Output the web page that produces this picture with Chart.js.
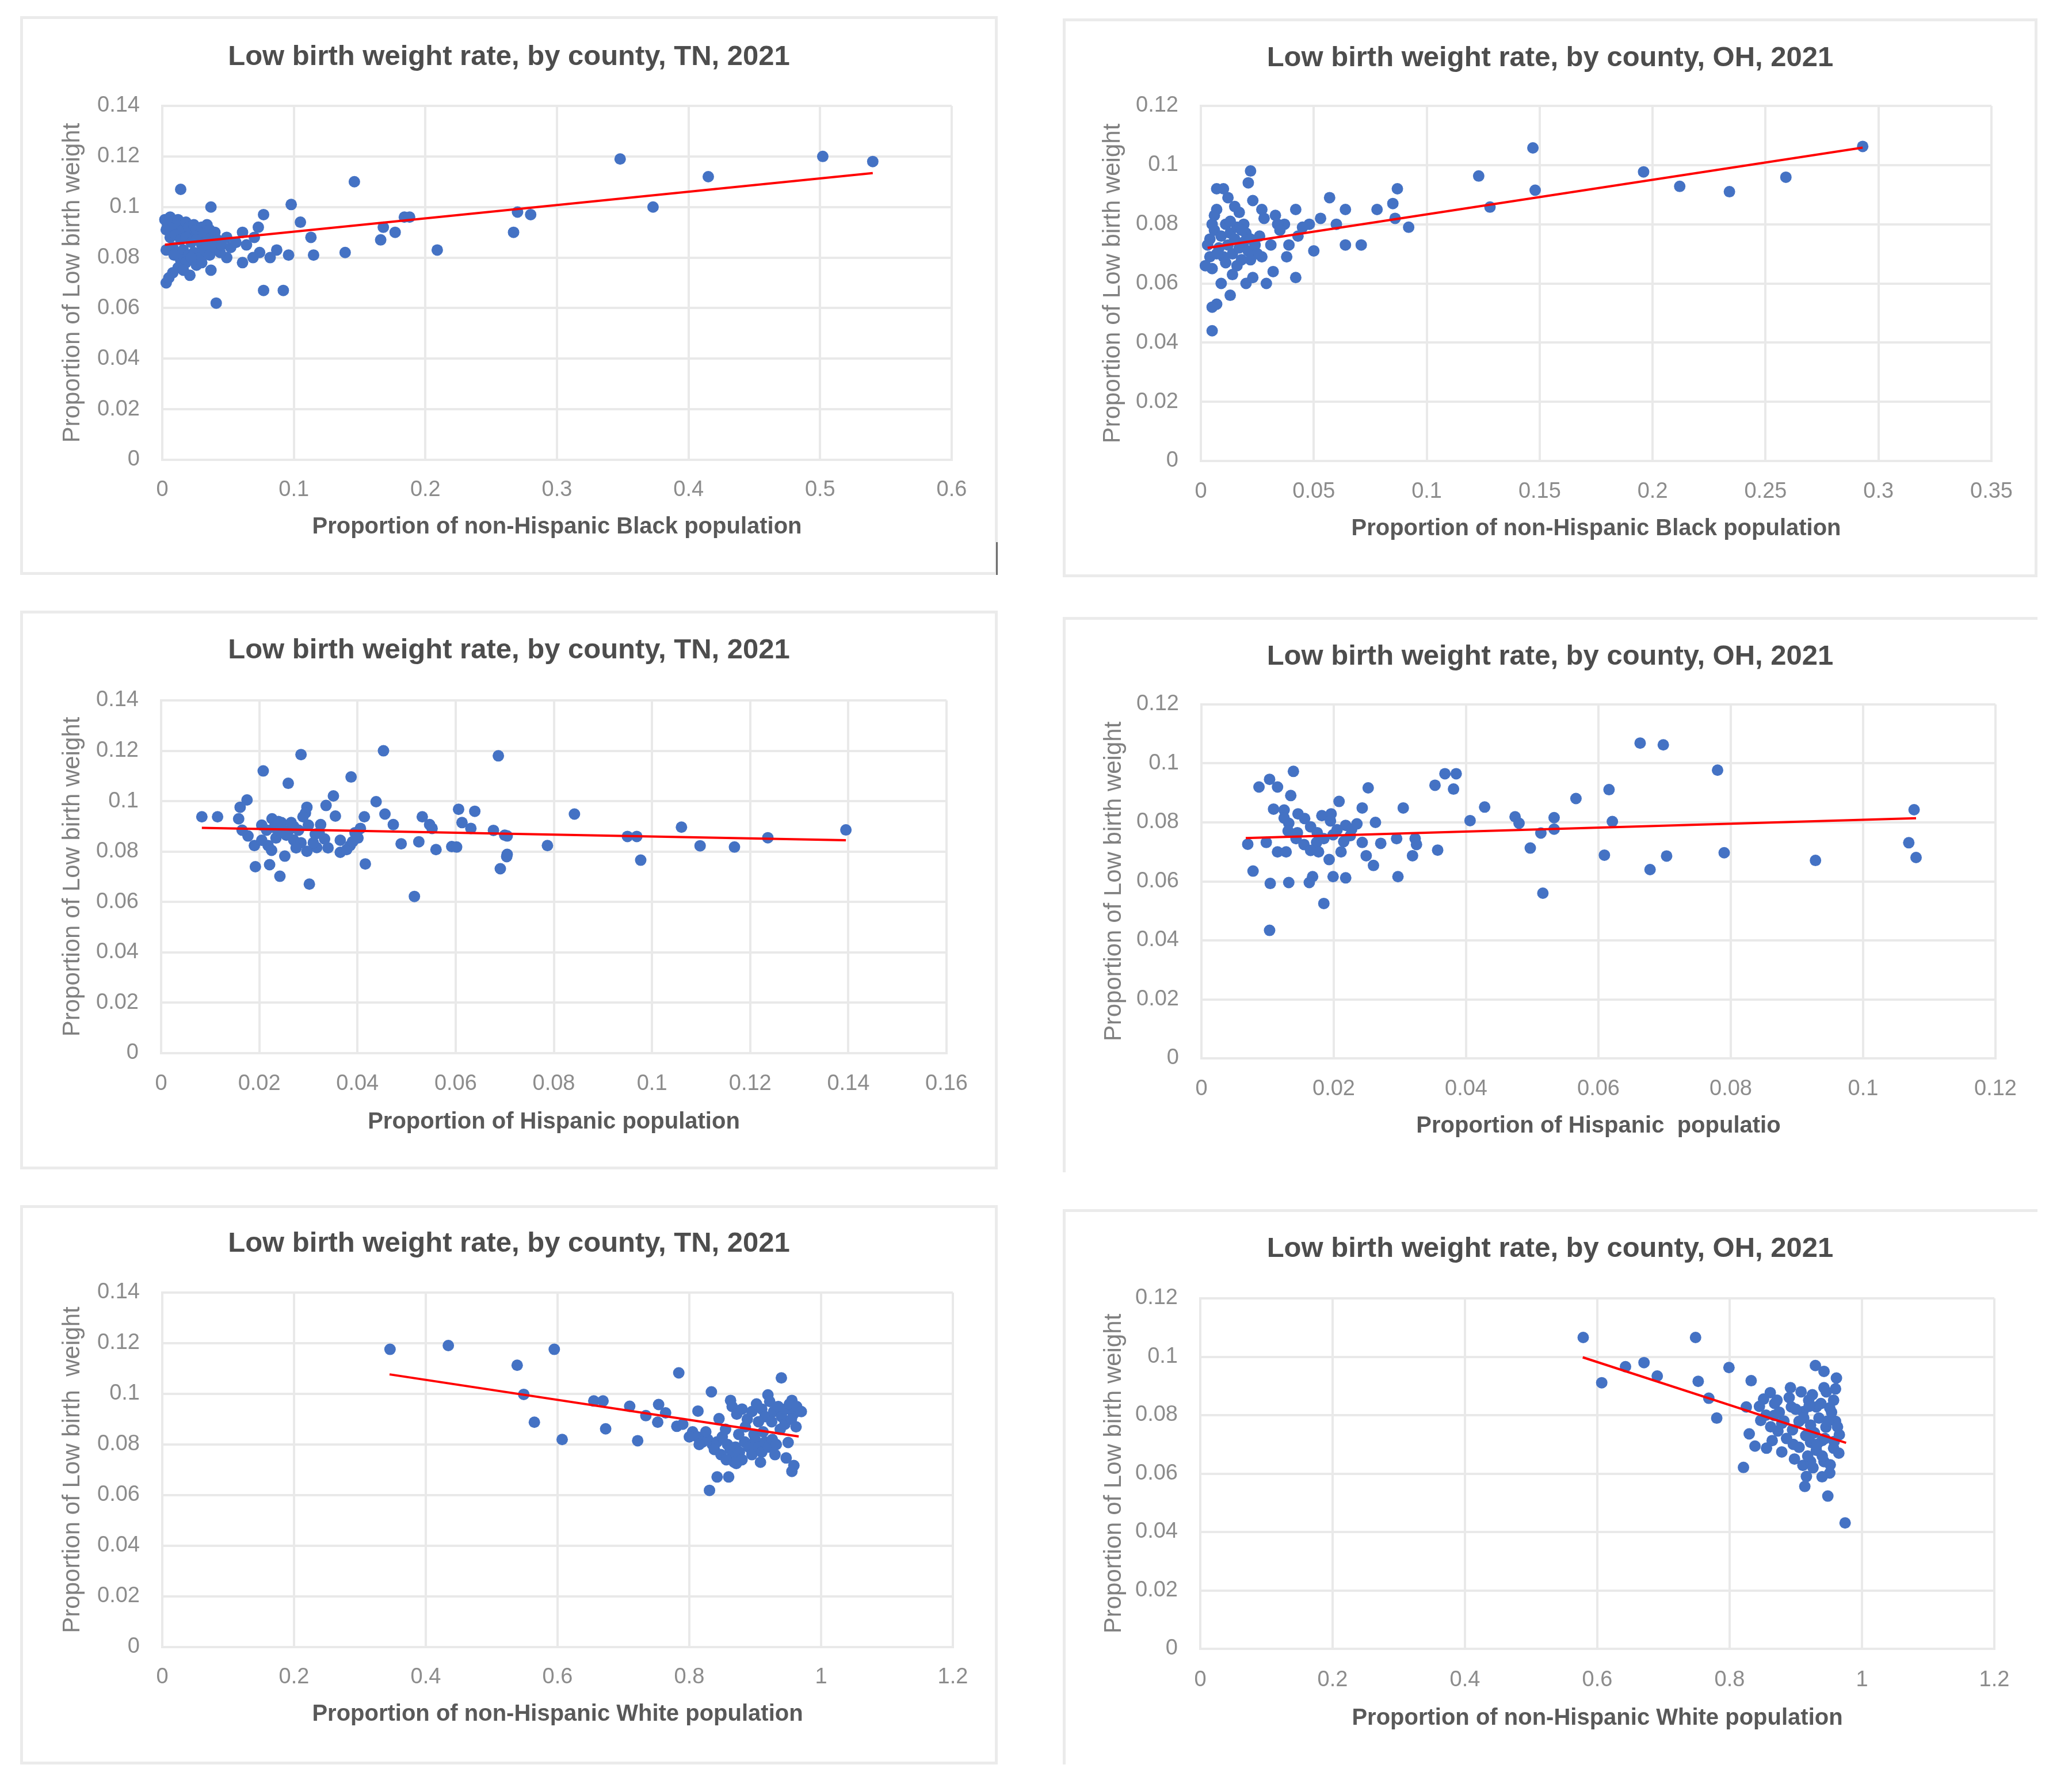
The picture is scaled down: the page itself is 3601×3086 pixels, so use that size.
<!DOCTYPE html>
<html>
<head>
<meta charset="utf-8">
<title>Low birth weight rate, by county, TN and OH, 2021</title>
<script src="https://cdn.jsdelivr.net/npm/chart.js@4.4.1/dist/chart.umd.min.js"></script>
<style>
  html, body { margin: 0; padding: 0; background: #fff; }
  body { width: 3601px; height: 3086px; position: relative; overflow: hidden; }
  .panel { position: absolute; }
  .frame { position: absolute; box-sizing: border-box; border: 5px solid #ebebeb; pointer-events: none; }
  .frame.open { border-right: none; border-bottom: none; }
  .mark { position: absolute; background: #6b6b6b; }
</style>
</head>
<body>
<div class="panel" style="left:35px;top:28px;"><canvas id="tnBlack" width="1699" height="971"></canvas></div>
<div class="panel" style="left:1847px;top:32px;"><canvas id="ohBlack" width="1694" height="971"></canvas></div>
<div class="panel" style="left:35px;top:1061px;"><canvas id="tnHisp" width="1699" height="971"></canvas></div>
<div class="panel" style="left:1847px;top:1072px;"><canvas id="ohHisp" width="1694" height="965"></canvas></div>
<div class="panel" style="left:35px;top:2094px;"><canvas id="tnWhite" width="1699" height="972"></canvas></div>
<div class="panel" style="left:1847px;top:2101px;"><canvas id="ohWhite" width="1694" height="965"></canvas></div>

<div class="frame" style="left:35px;top:28px;width:1699px;height:971px;"></div>
<div class="frame" style="left:1847px;top:32px;width:1694px;height:971px;"></div>
<div class="frame" style="left:35px;top:1061px;width:1699px;height:971px;"></div>
<div class="frame open" style="left:1847px;top:1072px;width:1694px;height:965px;"></div>
<div class="frame" style="left:35px;top:2094px;width:1699px;height:972px;"></div>
<div class="frame open" style="left:1847px;top:2101px;width:1694px;height:965px;"></div>
<div class="mark" style="left:1731px;top:942px;width:3px;height:57px;"></div>

<script>
'use strict';

// ---- titles
const chartTitleTN = 'Low birth weight rate, by county, TN, 2021';
const chartTitleOH = 'Low birth weight rate, by county, OH, 2021';

// ---- tick labels
const yTicksTN = [0, 0.02, 0.04, 0.06, 0.08, 0.1, 0.12, 0.14];
const yLabelsTN = ['0', '0.02', '0.04', '0.06', '0.08', '0.1', '0.12', '0.14'];
const yTicksOH = [0, 0.02, 0.04, 0.06, 0.08, 0.1, 0.12];
const yLabelsOH = ['0', '0.02', '0.04', '0.06', '0.08', '0.1', '0.12'];
const xTicksBlackTN = [0, 0.1, 0.2, 0.3, 0.4, 0.5, 0.6];
const xLabelsBlackTN = ['0', '0.1', '0.2', '0.3', '0.4', '0.5', '0.6'];
const xTicksBlackOH = [0, 0.05, 0.1, 0.15, 0.2, 0.25, 0.3, 0.35];
const xLabelsBlackOH = ['0', '0.05', '0.1', '0.15', '0.2', '0.25', '0.3', '0.35'];
const xTicksHispTN = [0, 0.02, 0.04, 0.06, 0.08, 0.1, 0.12, 0.14, 0.16];
const xLabelsHispTN = ['0', '0.02', '0.04', '0.06', '0.08', '0.1', '0.12', '0.14', '0.16'];
const xTicksHispOH = [0, 0.02, 0.04, 0.06, 0.08, 0.1, 0.12];
const xLabelsHispOH = ['0', '0.02', '0.04', '0.06', '0.08', '0.1', '0.12'];
const xTicksWhite = [0, 0.2, 0.4, 0.6, 0.8, 1, 1.2];
const xLabelsWhite = ['0', '0.2', '0.4', '0.6', '0.8', '1', '1.2'];

// ---- TN, non-Hispanic Black
const tnBlackX = [0.540, 0.502, 0.415, 0.348, 0.373, 0.267, 0.270, 0.280, 0.209, 0.184, 0.188, 0.177, 0.166, 0.168, 0.146, 0.139,
  0.014, 0.037, 0.098, 0.077, 0.105, 0.073, 0.061, 0.049, 0.113, 0.115, 0.096, 0.087, 0.082, 0.074, 0.069, 0.061, 0.049, 0.037, 0.021, 0.003, 0.041, 0.077, 0.092,
  0.002, 0.004, 0.006, 0.003, 0.008, 0.010, 0.012, 0.014, 0.016, 0.018, 0.020, 0.022, 0.024, 0.026, 0.028, 0.030, 0.032, 0.034, 0.036, 0.038, 0.040, 0.042,
  0.006, 0.010, 0.014, 0.018, 0.022, 0.026, 0.030, 0.034, 0.003, 0.008, 0.012, 0.016, 0.020, 0.024, 0.028, 0.032, 0.036, 0.040, 0.044,
  0.014, 0.018, 0.022, 0.026, 0.012, 0.008, 0.005, 0.016, 0.030, 0.045, 0.052, 0.056, 0.064, 0.070, 0.009];
const tnBlackY = [0.118, 0.120, 0.112, 0.119, 0.100, 0.090, 0.098, 0.097, 0.083, 0.096, 0.096, 0.090, 0.087, 0.092, 0.110, 0.082,
  0.107, 0.100, 0.101, 0.097, 0.094, 0.092, 0.090, 0.088, 0.088, 0.081, 0.081, 0.083, 0.080, 0.082, 0.080, 0.078, 0.080, 0.075, 0.073, 0.070, 0.062, 0.067, 0.067,
  0.095, 0.093, 0.096, 0.091, 0.094, 0.092, 0.095, 0.093, 0.091, 0.094, 0.092, 0.090, 0.093, 0.091, 0.089, 0.092, 0.090, 0.093, 0.091, 0.088, 0.090, 0.087,
  0.088, 0.089, 0.087, 0.088, 0.086, 0.087, 0.085, 0.086, 0.083, 0.084, 0.082, 0.083, 0.081, 0.082, 0.080, 0.083, 0.081, 0.084, 0.082,
  0.079, 0.078, 0.080, 0.077, 0.076, 0.074, 0.072, 0.075, 0.078, 0.085, 0.084, 0.086, 0.085, 0.088, 0.081];
const tnBlackTrendX = [0.002, 0.540];
const tnBlackTrendY = [0.0851, 0.1134];

// ---- OH, non-Hispanic Black
const ohBlackX = [0.293, 0.259, 0.234, 0.212, 0.196, 0.148, 0.147, 0.123, 0.128,
  0.087, 0.085, 0.086, 0.092, 0.078, 0.064, 0.057, 0.053, 0.048, 0.042, 0.037, 0.034, 0.043, 0.039, 0.050, 0.064, 0.071, 0.038, 0.042, 0.032, 0.029, 0.027,
  0.031, 0.028, 0.023, 0.022, 0.021, 0.012, 0.007, 0.010, 0.017, 0.019, 0.007, 0.006, 0.020, 0.023, 0.014, 0.009, 0.013, 0.007, 0.005, 0.005, 0.005, 0.004,
  0.004, 0.006, 0.008, 0.009, 0.011, 0.012, 0.013, 0.014, 0.015, 0.016, 0.017, 0.018, 0.019, 0.020, 0.021, 0.022, 0.024, 0.025, 0.010, 0.007, 0.003, 0.013,
  0.016, 0.026, 0.011, 0.005, 0.018, 0.022, 0.035, 0.045, 0.060, 0.027, 0.033, 0.002, 0.015];
const ohBlackY = [0.1063, 0.0959, 0.0910, 0.0928, 0.0977, 0.0915, 0.1058, 0.0963, 0.0858,
  0.092, 0.087, 0.082, 0.079, 0.085, 0.085, 0.089, 0.082, 0.080, 0.085, 0.080, 0.080, 0.076, 0.073, 0.071, 0.073, 0.073, 0.069, 0.062, 0.064, 0.060, 0.069,
  0.073, 0.082, 0.088, 0.098, 0.094, 0.089, 0.092, 0.092, 0.084, 0.080, 0.085, 0.083, 0.060, 0.062, 0.063, 0.060, 0.056, 0.053, 0.052, 0.044, 0.065, 0.069,
  0.075, 0.078, 0.072, 0.076, 0.080, 0.073, 0.077, 0.070, 0.075, 0.079, 0.072, 0.068, 0.074, 0.077, 0.071, 0.075, 0.073, 0.070, 0.069, 0.070, 0.073, 0.081,
  0.066, 0.076, 0.067, 0.080, 0.078, 0.068, 0.078, 0.079, 0.080, 0.085, 0.083, 0.066, 0.086];
const ohBlackTrendX = [0.003, 0.293];
const ohBlackTrendY = [0.0720, 0.1059];

// ---- TN, Hispanic
const tnHispX = [0.0285, 0.0453, 0.0687, 0.0208, 0.0259, 0.0387, 0.0175, 0.0161, 0.0083, 0.0115, 0.0158, 0.0351, 0.0336, 0.0297, 0.0294, 0.0355,
  0.0226, 0.0239, 0.0325, 0.0270, 0.0289, 0.0438, 0.0456, 0.0473, 0.0414, 0.0406, 0.0401, 0.0385, 0.0365, 0.0532, 0.0547, 0.0552, 0.0606, 0.0639,
  0.0613, 0.0631, 0.0677, 0.0705, 0.0787, 0.0842, 0.0705, 0.0691, 0.0489, 0.0525, 0.0560, 0.0592, 0.0516, 0.0416, 0.0302, 0.0242, 0.0221, 0.0192,
  0.0252, 0.0177, 0.0190, 0.0218, 0.0234, 0.0270, 0.0297, 0.0317, 0.0333, 0.0314, 0.0244, 0.0260, 0.0378, 0.0390,
  0.0950, 0.0969, 0.0977, 0.1060, 0.1098, 0.1168, 0.1236, 0.1395, 0.0602, 0.0704, 0.0700,
  0.0205, 0.0215, 0.0230, 0.0245, 0.0255, 0.0265, 0.0280, 0.0285, 0.0300, 0.0310, 0.0322, 0.0340, 0.0275, 0.0225, 0.0205, 0.0365, 0.0395, 0.0165];
const tnHispY = [0.1185, 0.1200, 0.1180, 0.1120, 0.1071, 0.1096, 0.1005, 0.0976, 0.0938, 0.0938, 0.0930, 0.1021, 0.0983, 0.0976, 0.0953, 0.0941,
  0.0930, 0.0919, 0.0907, 0.0900, 0.0938, 0.0998, 0.0949, 0.0907, 0.0938, 0.0892, 0.0854, 0.0824, 0.0797, 0.0938, 0.0907, 0.0892, 0.0968, 0.0960,
  0.0915, 0.0892, 0.0884, 0.0862, 0.0824, 0.0949, 0.0789, 0.0732, 0.0831, 0.0839, 0.0808, 0.0820, 0.0622, 0.0751, 0.0671, 0.0702, 0.0748, 0.0740,
  0.0782, 0.0862, 0.0824, 0.0824, 0.0854, 0.0846, 0.0801, 0.0816, 0.0850, 0.0869, 0.0877, 0.0884, 0.0808, 0.0839,
  0.0860, 0.0860, 0.0766, 0.0897, 0.0823, 0.0818, 0.0855, 0.0886, 0.0818, 0.0780, 0.0865,
  0.0905, 0.0885, 0.0895, 0.0915, 0.0865, 0.0915, 0.0885, 0.0835, 0.0905, 0.0835, 0.0875, 0.0815, 0.0815, 0.0805, 0.0845, 0.0845, 0.0875, 0.0885];
const tnHispTrendX = [0.0083, 0.1395];
const tnHispTrendY = [0.0894, 0.0845];

// ---- OH, Hispanic
const ohHispX = [0.0139, 0.0103, 0.0087, 0.0115, 0.0135, 0.0109, 0.0125, 0.0146, 0.0156, 0.0132, 0.0131, 0.0143, 0.0182, 0.0196, 0.0208, 0.0218,
  0.0227, 0.0199, 0.0174, 0.0177, 0.0193, 0.0211, 0.0243, 0.0249, 0.0260, 0.0271, 0.0263, 0.0243, 0.0252, 0.0305, 0.0353, 0.0368, 0.0385, 0.0381,
  0.0323, 0.0319, 0.0357, 0.0297, 0.0218, 0.0199, 0.0168, 0.0163, 0.0132, 0.0104, 0.0078, 0.0185, 0.0103, 0.0070, 0.0098, 0.0115, 0.0128,
  0.0406, 0.0428, 0.0474, 0.0480, 0.0497, 0.0513, 0.0533, 0.0533, 0.0516,
  0.0566, 0.0616, 0.0621, 0.0609, 0.0663, 0.0698, 0.0678, 0.0703, 0.0780, 0.0790, 0.0928, 0.1077, 0.1069, 0.1080,
  0.0145, 0.0165, 0.0185, 0.0205, 0.0225, 0.0155, 0.0175, 0.0195, 0.0215, 0.0235, 0.0125, 0.0165, 0.0325, 0.0295];
const ohHispY = [0.0973, 0.0946, 0.0920, 0.0920, 0.0891, 0.0845, 0.0842, 0.0829, 0.0813, 0.0797, 0.0771, 0.0745, 0.0823, 0.0829, 0.0871, 0.0790,
  0.0777, 0.0758, 0.0732, 0.0700, 0.0674, 0.0700, 0.0732, 0.0687, 0.0654, 0.0729, 0.0800, 0.0849, 0.0917, 0.0849, 0.0926, 0.0965, 0.0965, 0.0913,
  0.0745, 0.0687, 0.0706, 0.0616, 0.0612, 0.0616, 0.0616, 0.0596, 0.0596, 0.0593, 0.0635, 0.0525, 0.0434, 0.0726, 0.0732, 0.0700, 0.0700,
  0.0806, 0.0852, 0.0819, 0.0797, 0.0713, 0.0764, 0.0816, 0.0777, 0.0560,
  0.0881, 0.0911, 0.0803, 0.0689, 0.1069, 0.1063, 0.0640, 0.0686, 0.0977, 0.0697, 0.0671, 0.0843, 0.0731, 0.0681,
  0.0765, 0.0785, 0.0745, 0.0775, 0.0755, 0.0725, 0.0765, 0.0805, 0.0735, 0.0795, 0.0815, 0.0705, 0.0725, 0.0745];
const ohHispTrendX = [0.0067, 0.1080];
const ohHispTrendY = [0.0747, 0.0814];

// ---- TN, non-Hispanic White
const tnWhiteX = [0.3457, 0.4342, 0.5387, 0.5487, 0.5648, 0.5950, 0.6070, 0.6550, 0.6690, 0.6730, 0.7095, 0.7216, 0.7340, 0.7520, 0.7640,
  0.784, 0.9397, 0.8335, 0.9193, 0.8626, 0.9557, 0.8131, 0.7534, 0.781, 0.8451, 0.967, 0.950, 0.947, 0.9557, 0.9587, 0.8713, 0.8422, 0.8597, 0.8306,
  0.865, 0.872, 0.880, 0.888, 0.895, 0.902, 0.910, 0.915, 0.922, 0.928, 0.935, 0.940, 0.946, 0.952, 0.958, 0.963, 0.970, 0.925, 0.905, 0.945,
  0.805, 0.812, 0.820, 0.828, 0.835, 0.842, 0.850, 0.858, 0.862, 0.866, 0.870, 0.876, 0.880, 0.884, 0.890, 0.895, 0.900, 0.905, 0.910, 0.915,
  0.920, 0.926, 0.932, 0.875, 0.855, 0.898, 0.868,
  0.790, 0.800, 0.815, 0.825, 0.838, 0.848, 0.856, 0.885, 0.912, 0.938, 0.955, 0.962, 0.930, 0.908];
const tnWhiteY = [0.1176, 0.1191, 0.1113, 0.0998, 0.0888, 0.1176, 0.0820, 0.0972, 0.0972, 0.0862, 0.0951, 0.0815, 0.0914, 0.0888, 0.0925,
  0.1083, 0.1063, 0.1008, 0.0996, 0.0974, 0.0974, 0.0932, 0.0958, 0.0872, 0.0902, 0.0932, 0.0808, 0.0747, 0.0694, 0.0717, 0.0725, 0.0672, 0.0672, 0.0619,
  0.095, 0.092, 0.094, 0.090, 0.093, 0.096, 0.094, 0.091, 0.097, 0.093, 0.095, 0.091, 0.094, 0.096, 0.092, 0.095, 0.093, 0.089, 0.089, 0.088,
  0.085, 0.083, 0.081, 0.082, 0.080, 0.081, 0.083, 0.080, 0.078, 0.076, 0.079, 0.077, 0.074, 0.081, 0.079, 0.076, 0.082, 0.079, 0.077, 0.081,
  0.079, 0.082, 0.080, 0.084, 0.086, 0.084, 0.073,
  0.088, 0.083, 0.080, 0.085, 0.078, 0.076, 0.074, 0.087, 0.085, 0.086, 0.090, 0.087, 0.076, 0.073];
const tnWhiteTrendX = [0.345, 0.966];
const tnWhiteTrendY = [0.1077, 0.0832];

// ---- OH, non-Hispanic White
const ohWhiteX = [0.5787, 0.6067, 0.6426, 0.6706, 0.6906, 0.7485, 0.7525, 0.7685, 0.7805,
  0.799, 0.8325, 0.9296, 0.9426, 0.9614, 0.9426, 0.8919, 0.8614, 0.8513, 0.8716, 0.8252, 0.8296, 0.8209, 0.847, 0.8672, 0.8933, 0.9194, 0.9571,
  0.931, 0.9513, 0.9107, 0.960, 0.9223, 0.9455, 0.9658, 0.873, 0.8643, 0.8383, 0.8557, 0.8788, 0.8962, 0.9223, 0.9397, 0.9571, 0.931, 0.9107,
  0.9223, 0.9426, 0.9513, 0.9397, 0.9136, 0.9484, 0.9745, 0.8788, 0.9049,
  0.845, 0.855, 0.862, 0.868, 0.875, 0.882, 0.886, 0.890, 0.895, 0.900, 0.905, 0.908, 0.912, 0.915, 0.918, 0.920, 0.925, 0.928, 0.932, 0.935,
  0.938, 0.940, 0.944, 0.946, 0.948, 0.952, 0.954, 0.958, 0.960, 0.963, 0.965, 0.926, 0.916, 0.898];
const ohWhiteY = [0.1066, 0.0911, 0.0966, 0.0980, 0.0934, 0.1066, 0.0916, 0.0858, 0.0790,
  0.0963, 0.0918, 0.0970, 0.0950, 0.0927, 0.0894, 0.0894, 0.0877, 0.0855, 0.0851, 0.0828, 0.0736, 0.0621, 0.0782, 0.0799, 0.0828, 0.0851, 0.0851,
  0.0828, 0.0825, 0.0812, 0.0779, 0.0766, 0.0759, 0.0733, 0.0746, 0.0713, 0.0694, 0.0687, 0.0674, 0.0700, 0.0707, 0.0713, 0.0687, 0.0680, 0.0628,
  0.0641, 0.0641, 0.0602, 0.0589, 0.0556, 0.0523, 0.0431, 0.0772, 0.0779,
  0.083, 0.080, 0.076, 0.084, 0.081, 0.078, 0.072, 0.086, 0.075, 0.082, 0.069, 0.088, 0.079, 0.073, 0.066, 0.083, 0.087, 0.074, 0.070, 0.079,
  0.084, 0.066, 0.072, 0.088, 0.078, 0.063, 0.081, 0.071, 0.089, 0.076, 0.067, 0.062, 0.059, 0.065];
const ohWhiteTrendX = [0.578, 0.976];
const ohWhiteTrendY = [0.0998, 0.0705];

// ---- layout of each panel (page pixels)
const panels = [
  { id: 'tnBlack', box: [35, 28, 1699, 971], plot: [282, 184, 1654, 799], titleY: 99, tickY: 852, xTitleY: 916, yTitleX: 126,
    title: chartTitleTN, xTitle: 'Proportion of non-Hispanic Black population', yTitle: 'Proportion of Low birth weight',
    xs: tnBlackX, ys: tnBlackY, tx: tnBlackTrendX, ty: tnBlackTrendY,
    xTicks: xTicksBlackTN, xLabels: xLabelsBlackTN, yTicks: yTicksTN, yLabels: yLabelsTN },
  { id: 'ohBlack', box: [1847, 32, 1694, 971], plot: [2087, 184, 3461, 801], titleY: 101, tickY: 855, xTitleY: 919, yTitleX: 1934,
    title: chartTitleOH, xTitle: 'Proportion of non-Hispanic Black population', yTitle: 'Proportion of Low birth weight',
    xs: ohBlackX, ys: ohBlackY, tx: ohBlackTrendX, ty: ohBlackTrendY,
    xTicks: xTicksBlackOH, xLabels: xLabelsBlackOH, yTicks: yTicksOH, yLabels: yLabelsOH },
  { id: 'tnHisp', box: [35, 1061, 1699, 971], plot: [280, 1217, 1645, 1830], titleY: 1130, tickY: 1884, xTitleY: 1950, yTitleX: 126,
    title: chartTitleTN, xTitle: 'Proportion of Hispanic population', yTitle: 'Proportion of Low birth weight',
    xs: tnHispX, ys: tnHispY, tx: tnHispTrendX, ty: tnHispTrendY,
    xTicks: xTicksHispTN, xLabels: xLabelsHispTN, yTicks: yTicksTN, yLabels: yLabelsTN },
  { id: 'ohHisp', box: [1847, 1072, 1694, 965], plot: [2088, 1224, 3468, 1839], titleY: 1141, tickY: 1893, xTitleY: 1957, yTitleX: 1936,
    title: chartTitleOH, xTitle: 'Proportion of Hispanic  populatio', yTitle: 'Proportion of Low birth weight',
    xs: ohHispX, ys: ohHispY, tx: ohHispTrendX, ty: ohHispTrendY,
    xTicks: xTicksHispOH, xLabels: xLabelsHispOH, yTicks: yTicksOH, yLabels: yLabelsOH },
  { id: 'tnWhite', box: [35, 2094, 1699, 972], plot: [282, 2246, 1656, 2862], titleY: 2161, tickY: 2915, xTitleY: 2979, yTitleX: 126,
    title: chartTitleTN, xTitle: 'Proportion of non-Hispanic White population', yTitle: 'Proportion of Low birth  weight',
    xs: tnWhiteX, ys: tnWhiteY, tx: tnWhiteTrendX, ty: tnWhiteTrendY,
    xTicks: xTicksWhite, xLabels: xLabelsWhite, yTicks: yTicksTN, yLabels: yLabelsTN },
  { id: 'ohWhite', box: [1847, 2101, 1694, 965], plot: [2086, 2256, 3466, 2865], titleY: 2170, tickY: 2920, xTitleY: 2986, yTitleX: 1936,
    title: chartTitleOH, xTitle: 'Proportion of non-Hispanic White population', yTitle: 'Proportion of Low birth weight',
    xs: ohWhiteX, ys: ohWhiteY, tx: ohWhiteTrendX, ty: ohWhiteTrendY,
    xTicks: xTicksWhite, xLabels: xLabelsWhite, yTicks: yTicksOH, yLabels: yLabelsOH }
];

const FONT = "'Liberation Sans', Arial, sans-serif";
const GRID = '#e9e9e9';

function zip(xs, ys) {
  return xs.map((x, i) => ({ x: x, y: ys[i] }));
}

function makeChart(p) {
  const [bx, by, W, H] = p.box;
  const [pl, pt, pr, pb] = p.plot;
  const gapR = bx + W - pr;
  const gapB = by + H - pb;
  const yAxisW = (pl - bx) - gapR;

  const tSize = 49, tLH = tSize * 1.2;
  const titleTop = (p.titleY - by) - tLH / 2;
  const titleBottom = (pt - by) - titleTop - tLH;

  const xtSize = 40, xtLH = xtSize * 1.2;
  const xTitlePadB = gapB - (p.xTitleY - pb) - xtLH / 2;

  const ytSize = 42;
  const yTitlePad = (p.yTitleX - bx) - gapR - ytSize / 2;

  const tickSize = 38;
  const tickPadX = (p.tickY - pb) - tickSize * 1.2 / 2;

  new Chart(document.getElementById(p.id), {
    type: 'scatter',
    data: {
      datasets: [
        {
          label: 'Linear trend',
          data: zip(p.tx, p.ty),
          showLine: true,
          borderColor: '#ff0000',
          borderWidth: 4,
          pointRadius: 0,
          fill: false,
          order: 0,
          clip: false
        },
        {
          label: 'Counties',
          data: zip(p.xs, p.ys),
          backgroundColor: '#4472c4',
          borderWidth: 0,
          pointRadius: 10,
          order: 1,
          clip: false
        }
      ]
    },
    options: {
      responsive: false,
      devicePixelRatio: 1,
      animation: false,
      layout: { padding: { left: gapR, right: gapR, top: 0, bottom: 0 } },
      plugins: {
        legend: { display: false },
        tooltip: { enabled: false },
        title: {
          display: true,
          text: p.title,
          color: '#4d4d4d',
          font: { family: FONT, size: tSize, weight: 'bold', lineHeight: 1.2 },
          padding: { top: titleTop, bottom: titleBottom }
        }
      },
      scales: {
        x: {
          type: 'linear',
          min: p.xTicks[0],
          max: p.xTicks[p.xTicks.length - 1],
          afterBuildTicks: axis => { axis.ticks = p.xTicks.map(v => ({ value: v })); },
          afterFit: axis => { axis.height = gapB; },
          ticks: {
            autoSkip: false,
            maxRotation: 0,
            padding: tickPadX,
            color: '#8c8c8c',
            font: { family: FONT, size: tickSize },
            callback: (value, index) => p.xLabels[index]
          },
          grid: { color: GRID, lineWidth: 4, drawTicks: false },
          border: { color: GRID, width: 4 },
          title: {
            display: true,
            text: p.xTitle,
            color: '#595959',
            font: { family: FONT, size: xtSize, weight: 'bold', lineHeight: 1.2 },
            padding: { top: 0, bottom: xTitlePadB }
          }
        },
        y: {
          type: 'linear',
          min: p.yTicks[0],
          max: p.yTicks[p.yTicks.length - 1],
          afterBuildTicks: axis => { axis.ticks = p.yTicks.map(v => ({ value: v })); },
          afterFit: axis => { axis.width = yAxisW; },
          ticks: {
            padding: 39,
            color: '#8c8c8c',
            font: { family: FONT, size: tickSize },
            callback: (value, index) => p.yLabels[index]
          },
          grid: { color: GRID, lineWidth: 4, drawTicks: false },
          border: { color: GRID, width: 4 },
          title: {
            display: true,
            text: p.yTitle,
            color: '#808080',
            font: { family: FONT, size: ytSize, weight: 'normal', lineHeight: 1 },
            padding: { top: yTitlePad, bottom: 0 }
          }
        }
      }
    }
  });
}

panels.forEach(makeChart);
</script>
</body>
</html>
